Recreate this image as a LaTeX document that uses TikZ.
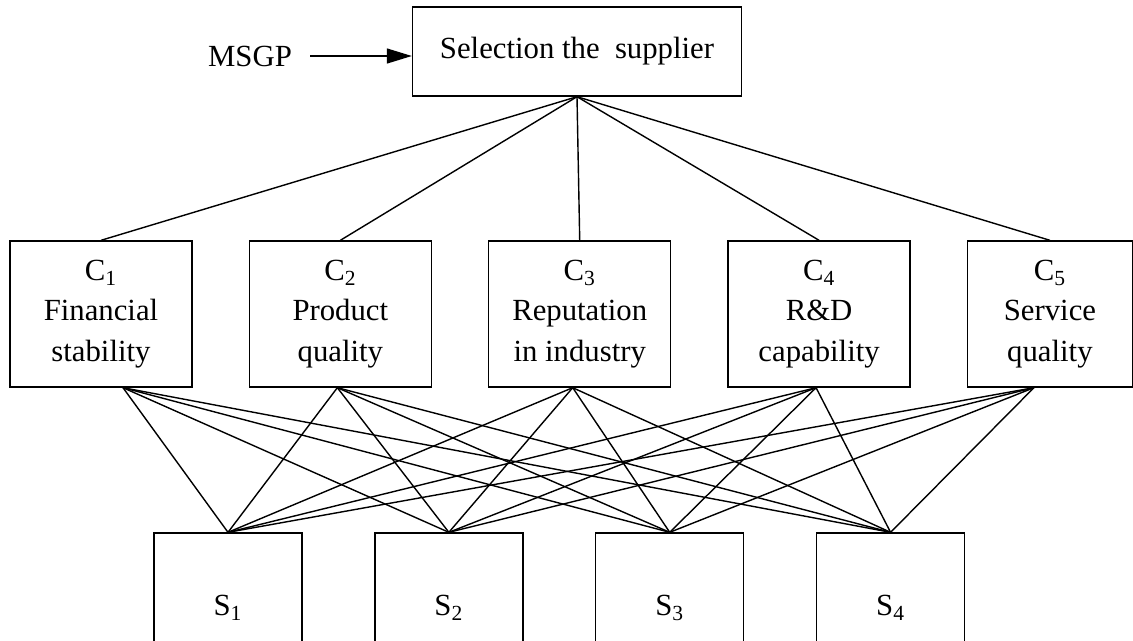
\documentclass[tikz,border=0pt]{standalone}
\usepackage{fontspec}
\setmainfont{Liberation Serif}
\usepackage{tikz}
\usetikzlibrary{positioning,calc,arrows.meta}
\tikzset{%
  goalBox/.style={%
    rectangle,
    draw=black,
    line width=0.8pt,
    minimum width=6.58cm,
    minimum height=1.78cm,
    inner sep=0pt,
    align=center
  },
  critBox/.style={%
    rectangle,
    draw=black,
    line width=0.8pt,
    minimum width=3.64cm,
    minimum height=2.92cm,
    inner sep=0pt,
    align=center
  },
  altBox/.style={%
    rectangle,
    draw=black,
    line width=0.8pt,
    minimum width=2.96cm,
    minimum height=3cm,
    inner sep=0pt,
    align=center
  },
  inArrow/.style={%
    -{Triangle[length=5mm,width=3mm]},
    line width=0.8pt
  },
  linkLine/.style={%
    line width=0.8pt
  }
}

\begin{document}
\begin{tikzpicture}[x=0.02cm, y=-0.02cm, font=\fontsize{17.5pt}{23pt}\selectfont]
            \clip (0,0) rectangle (1133,640);
            \node[goalBox] (goal) at (577,51.5) {Selection the~ supplier};
            \node[inner sep=0pt, inner xsep=0.36cm] (msgp) at (250,56) {MSGP};
            \draw[inArrow] (msgp.east) -- (msgp.east -| goal.west);

            \node[critBox] (c1) at (101,314) {C\textsubscript{1}\\Financial\\stability};
            \node[critBox, right=1.12cm of c1] (c2) {C\textsubscript{2}\\Product\\quality};
            \node[critBox, right=1.12cm of c2] (c3) {C\textsubscript{3}\\Reputation\\in industry};
            \node[critBox, right=1.12cm of c3] (c4) {C\textsubscript{4}\\R\&D\\capability};
            \node[critBox, right=1.12cm of c4, minimum width=3.3cm] (c5) {C\textsubscript{5}\\Service\\quality};

            \node[altBox] (s1) at (228,608) {S\textsubscript{1}};
            \node[altBox, right=1.43cm of s1] (s2) {S\textsubscript{2}};
            \node[altBox, right=1.43cm of s2] (s3) {S\textsubscript{3}};
            \node[altBox, right=1.43cm of s3] (s4) {S\textsubscript{4}};

            % goal to criteria
            \foreach \i in {1,...,5}
                \draw[linkLine] (goal.south) -- (c\i.north);

            % criteria to suppliers
            \foreach \i/\dx in {1/22, 2/-3, 3/-7, 4/-3, 5/-16}
                \coordinate (c\i-bot) at ($(c\i.south)+(\dx,0)$);
            \foreach \i in {1,...,5}
                \foreach \j in {1,...,4}
                    \draw[linkLine] (c\i-bot) -- (s\j.north);
        \end{tikzpicture}
\end{document}
